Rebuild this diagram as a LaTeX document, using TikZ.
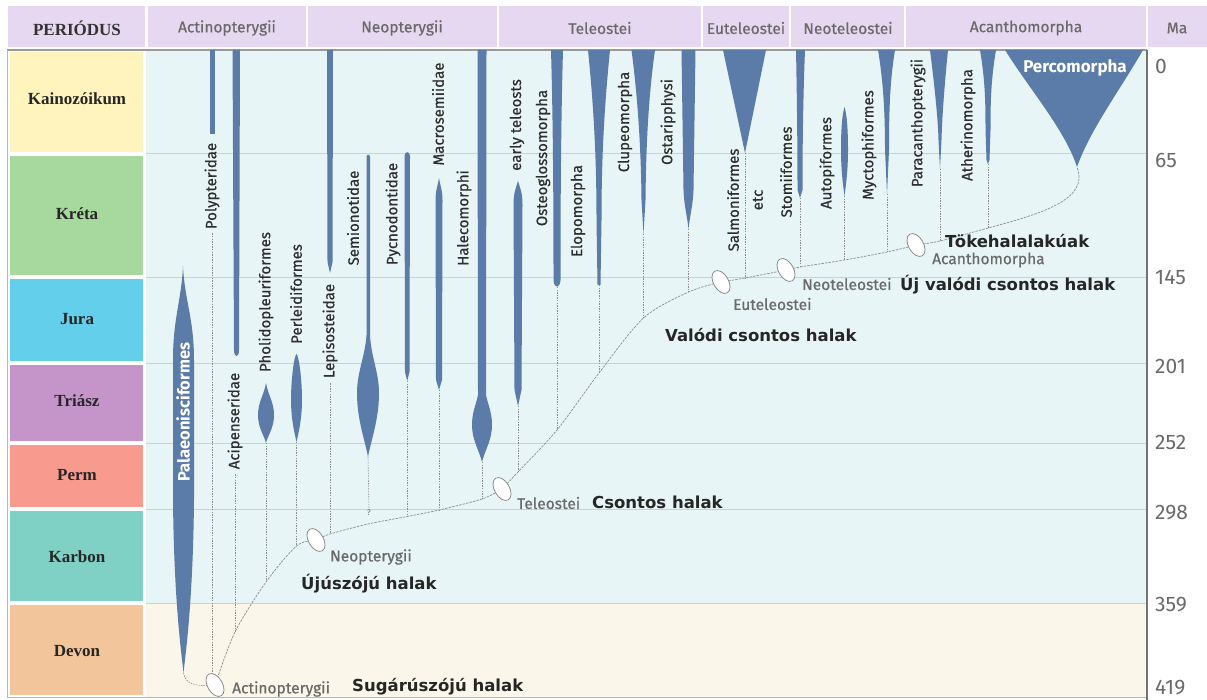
\documentclass[tikz,border=0pt]{standalone}
\usepackage{fontspec}
\setmainfont{Liberation Serif}
\newfontfamily\taxfont{Fira Sans}
\newfontfamily\taxheavy[UprightFeatures={FakeBold=0.6}]{Fira Sans}
\newfontfamily\hunfont{DejaVu Sans}
\usetikzlibrary{shapes.geometric}
\pgfdeclarelayer{back}
\pgfdeclarelayer{lines}
\pgfsetlayers{back,lines,main}

\definecolor{hdr}{HTML}{E6D8F1}
\definecolor{plotbg}{HTML}{E8F5F6}
\definecolor{devonbg}{HTML}{FAF6EA}
\definecolor{gridc}{HTML}{C6D3D5}
\definecolor{framec}{HTML}{9A9A9A}
\definecolor{branchc}{HTML}{5B7BA9}
\definecolor{txtgray}{HTML}{6A6A6A}
\definecolor{txtdark}{HTML}{2E2E2E}
\definecolor{linkc}{HTML}{8C8C8C}
\definecolor{cKai}{HTML}{FFF4BE}
\definecolor{cKre}{HTML}{A7D89D}
\definecolor{cJur}{HTML}{64CFEA}
\definecolor{cTri}{HTML}{C595CA}
\definecolor{cPer}{HTML}{F89A8E}
\definecolor{cKar}{HTML}{7FD0C5}
\definecolor{cDev}{HTML}{F3C59A}

\tikzset{
  hdrcell/.style={fill=hdr},
  hdrtext/.style={font=\taxheavy\fontsize{15.5}{17}\selectfont, text=txtgray, inner sep=0},
  period/.style={font=\bfseries\fontsize{17}{19}\selectfont, text=black!85, inner sep=0},
  taxon/.style={rotate=90, font=\taxheavy\fontsize{15}{17}\selectfont, text=txtdark, inner sep=0},
  whitetaxon/.style={rotate=90, font=\taxfont\bfseries\fontsize{16.5}{18}\selectfont, text=white, inner sep=0},
  branch/.style={fill=branchc},
  link/.style={draw=linkc, line width=0.6pt, dash pattern=on 1.4pt off 1.2pt},
  backbone/.style={draw=linkc, line width=0.7pt, dash pattern=on 2.5pt off 1.1pt},
  clade/.style={ellipse, draw=linkc, fill=white, line width=0.8pt, minimum width=15pt, minimum height=25pt, inner sep=0, rotate=30},
  cladename/.style={anchor=west, font=\taxheavy\fontsize{15.5}{17}\selectfont, text=txtgray, inner sep=0},
  hunname/.style={anchor=west, font=\hunfont\bfseries\fontsize{16.5}{18}\selectfont, text=black!85, inner sep=0},
  ma/.style={anchor=west, font=\taxfont\fontsize{21}{23}\selectfont, text=txtgray, inner sep=0},
}

\begin{document}
\begin{tikzpicture}[x=1pt,y=-1pt]
\useasboundingbox (0,0) rectangle (1207,700);

% ---------- backgrounds, header, period column, grid ----------
\begin{pgfonlayer}{back}
\fill[white] (0,0) rectangle (1207,700);
\fill[hdrcell] (8,6) rectangle (145,47);
\fill[hdrcell] (148,6) rectangle (306,47);
\fill[hdrcell] (308,6) rectangle (497,47);
\fill[hdrcell] (499,6) rectangle (701,47);
\fill[hdrcell] (703,6) rectangle (789,47);
\fill[hdrcell] (791,6) rectangle (904,47);
\fill[hdrcell] (906,6) rectangle (1146,47);
\fill[hdrcell] (1148,6) rectangle (1207,47);

\fill[plotbg] (146,50) rectangle (1147,603);
\fill[devonbg] (146,603) rectangle (1147,697);
\foreach \yy in {153,277,363,443,509,603}
  \draw[gridc, line width=0.9pt] (146,\yy) -- (1147,\yy);

\fill[cKai] (10,52) rectangle (143,152);
\fill[cKre] (10,156) rectangle (143,275);
\fill[cJur] (10,279) rectangle (143,361);
\fill[cTri] (10,365) rectangle (143,441);
\fill[cPer] (10,445) rectangle (143,507);
\fill[cKar] (10,511) rectangle (143,601);
\fill[cDev] (10,605) rectangle (143,695);

\draw[framec, line width=1.2pt] (7,50) -- (1147,50);
\draw[framec!70, line width=0.8pt] (7,50) -- (7,697) -- (1147,697);
\draw[black!55, line width=1.4pt] (1147,50) -- (1147,700);
\end{pgfonlayer}

% ---------- header texts ----------
\node[font=\bfseries\fontsize{17}{19}\selectfont, text=black!80, inner sep=0] (hPer) at (77,28) {PERIÓDUS};
\node[hdrtext] (hActi) at (227,28) {Actinopterygii};
\node[hdrtext] (hNeop) at (402,28) {Neopterygii};
\node[hdrtext] (hTele) at (600,28) {Teleostei};
\node[hdrtext] (hEute) at (746,28) {Euteleostei};
\node[hdrtext] (hNeot) at (848,28) {Neoteleostei};
\node[hdrtext] (hAcan) at (1026,28) {Acanthomorpha};
\node[hdrtext] (hMa) at (1177,28) {Ma};

% ---------- periods ----------
\node[period] (pKai) at (77,99) {Kainozóikum};
\node[period] (pKre) at (77,214) {Kréta};
\node[period] (pJur) at (77,319) {Jura};
\node[period] (pTri) at (77,401) {Triász};
\node[period] (pPer) at (77,475) {Perm};
\node[period] (pKar) at (77,557) {Karbon};
\node[period] (pDev) at (77,651) {Devon};

% ---------- time scale ----------
\node[ma] (m0) at (1155,67) {0};
\node[ma] (m65) at (1155,160) {65};
\node[ma] (m145) at (1155,277) {145};
\node[ma] (m201) at (1155,366) {201};
\node[ma] (m252) at (1155,442) {252};
\node[ma] (m298) at (1155,513) {298};
\node[ma] (m359) at (1155,605) {359};
\node[ma] (m419) at (1155,688) {419};

% ---------- lineages ----------
% Palaeonisciformes
\fill[branch] (183,266) .. controls (184.5,300) and (194,318) .. (194,360) -- (194,500)
  .. controls (193,600) and (186,650) .. (183.5,673)
  .. controls (181,650) and (174,600) .. (173,500) -- (173,360)
  .. controls (173,318) and (181.5,300) .. (183,266) -- cycle;
% Polypteridae
\fill[branch] (210,50) rectangle (214.5,134);
% Acipenseridae
\fill[branch] (232.5,50) -- (240,50) -- (239,350) .. controls (239,358) and (234,358) .. (234,350) -- cycle;
% Pholidopleuriformes
\fill[branch] (266,383) .. controls (268,395) and (274,402) .. (274,415) .. controls (274,428) and (268,435) .. (266,443)
  .. controls (264,435) and (258,428) .. (258,415) .. controls (258,402) and (264,395) .. (266,383) -- cycle;
% Perleidiformes
\fill[branch] (296.5,354) .. controls (299,356) and (302,380) .. (302,400) .. controls (302,420) and (298,435) .. (296.5,442)
  .. controls (295,435) and (291,420) .. (291,400) .. controls (291,380) and (294,356) .. (296.5,354) -- cycle;
% Lepisosteidae
\fill[branch] (327,50) -- (333,50) -- (332.5,262) -- (330,273) -- (327.5,262) -- cycle;
% Semionotidae
\fill[branch] (366.5,157) .. controls (366.5,154) and (370,154) .. (370,157) -- (370,335)
  .. controls (371,357) and (379,372) .. (379,393) .. controls (379,420) and (371,440) .. (368,457)
  .. controls (365,440) and (357,420) .. (357,393) .. controls (357,372) and (365,357) .. (366.5,335) -- cycle;
% Pycnodontidae
\fill[branch] (404.5,156) .. controls (404.5,151) and (410,151) .. (410,156) -- (409.5,372) -- (407.2,381) -- (405,372) -- cycle;
% Macrosemiidae
\fill[branch] (439,178) .. controls (440,185) and (442.5,190) .. (442.5,200) -- (442,380) -- (439,390) -- (436,380) -- (435.5,200)
  .. controls (435.5,190) and (438,185) .. (439,178) -- cycle;
% Halecomorphi
\fill[branch] (477.5,50) -- (486.5,50) -- (486,395) .. controls (488,405) and (492,412) .. (492,425)
  .. controls (492,440) and (485,450) .. (482,462) .. controls (479,450) and (472,440) .. (472,425)
  .. controls (472,412) and (476,405) .. (478,395) -- cycle;
% early teleosts
\fill[branch] (518,181) .. controls (520,188) and (522.5,192) .. (522.5,205) -- (521.5,390) -- (518,406) -- (514.5,390) -- (513.5,205)
  .. controls (513.5,192) and (516,188) .. (518,181) -- cycle;
% Osteoglossomorpha
\fill[branch] (551,50) -- (563,50) .. controls (561,120) and (560.5,200) .. (560.5,280) .. controls (560,289) and (554,289) .. (553.5,280)
  .. controls (553.5,200) and (553,120) .. (551,50) -- cycle;
% Elopomorpha
\fill[branch] (588,50) -- (610,50) .. controls (604,110) and (601.5,160) .. (601.5,220) -- (600.5,285) -- (597.5,285) -- (596.5,220)
  .. controls (596.5,160) and (594,110) .. (588,50) -- cycle;
% Clupeomorpha
\fill[branch] (631.5,50) -- (655,50) .. controls (648,100) and (646,150) .. (645.5,200) -- (643.5,234) -- (641.5,200)
  .. controls (641,150) and (638,100) .. (631.5,50) -- cycle;
% Ostariphysi
\fill[branch] (681.5,50) -- (695.5,50) -- (693.5,190) .. controls (693,205) and (690,215) .. (688.5,229)
  .. controls (687,215) and (684,205) .. (683.5,190) -- cycle;
% Salmoniformes
\fill[branch] (723,50) -- (766,50) -- (745,153) -- cycle;
% Stomiiformes
\fill[branch] (796,50) -- (805,50) .. controls (803,100) and (802.5,150) .. (802.5,190) -- (800,198) -- (797.5,190)
  .. controls (797.5,150) and (797,100) .. (796,50) -- cycle;
% Autopiformes
\fill[branch] (844.5,107) .. controls (847,115) and (848,130) .. (848,150) .. controls (848,170) and (846,185) .. (844.5,196)
  .. controls (843,185) and (841,170) .. (841,150) .. controls (841,130) and (842,115) .. (844.5,107) -- cycle;
% Myctophiformes
\fill[branch] (878,50) -- (895,50) .. controls (890,80) and (889,110) .. (889,150) -- (887,194) -- (885,150)
  .. controls (885,110) and (883,80) .. (878,50) -- cycle;
% Paracanthopterygii
\fill[branch] (930,50) -- (948,50) .. controls (944,90) and (942,120) .. (941.5,140) -- (940,169) -- (938.5,140)
  .. controls (938,120) and (935,90) .. (930,50) -- cycle;
% Atherinomorpha
\fill[branch] (980,50) -- (996,50) .. controls (991,80) and (990.5,100) .. (990.5,130) -- (989.5,160) -- (988,164) -- (986.5,160) -- (985.5,130)
  .. controls (985.5,100) and (985,80) .. (980,50) -- cycle;
% Percomorpha
\fill[branch] (1005,50) -- (1143,50) .. controls (1120,90) and (1090,130) .. (1077,167)
  .. controls (1065,130) and (1030,90) .. (1005,50) -- cycle;

% ---------- lineage names ----------
\node[whitetaxon] (lPal) at (183,412) {Palaeonisciformes};
\node[taxon] (lPoly) at (212,186) {Polypteridae};
\node[taxon] (lAci) at (235,421) {Acipenseridae};
\node[taxon] (lPho) at (266,302) {Pholidopleuriformes};
\node[taxon] (lPerl) at (296,294) {Perleidiformes};
\node[taxon] (lLep) at (330,331) {Lepisosteidae};
\node[taxon] (lSem) at (353,218) {Semionotidae};
\node[taxon] (lPyc) at (393,214) {Pycnodontidae};
\node[taxon] (lMac) at (438,114) {Macrosemiidae};
\node[taxon] (lHal) at (464,218) {Halecomorphi};
\node[taxon] (lEar) at (517,125) {early teleosts};
\node[taxon] (lOst) at (543,158) {Osteoglossomorpha};
\node[taxon] (lElo) at (578,211) {Elopomorpha};
\node[taxon] (lClu) at (625,122) {Clupeomorpha};
\node[taxon] (lOsta) at (668,122) {Ostaripphysi};
\node[taxon, align=center, font=\taxheavy\fontsize{15}{24}\selectfont] (lSal) at (745,200) {Salmoniformes\\etc};
\node[taxon] (lSto) at (786,172) {Stomiiformes};
\node[taxon] (lAut) at (827,163) {Autopiformes};
\node[taxon] (lMyc) at (869,145) {Myctophiformes};
\node[taxon] (lPar) at (918,123) {Paracanthopterygii};
\node[taxon] (lAth) at (968,125) {Atherinomorpha};
\node[font=\taxfont\bfseries\fontsize{17}{19}\selectfont, text=white, inner sep=0] (lPerc) at (1075,68) {Percomorpha};
\node[font=\taxfont\fontsize{8}{9}\selectfont, text=txtgray, inner sep=0] (qSem) at (369,513) {?};

% ---------- clade nodes ----------
\node[clade] (act) at (215,685) {};
\node[clade] (neo) at (316,540) {};
\node[clade] (tel) at (502,489) {};
\node[clade] (eut) at (721,282) {};
\node[clade] (neot) at (786,270) {};
\node[clade] (acan) at (916,245) {};

\node[cladename] (nAct) at (232,689) {Actinopterygii};
\node[hunname] (hAct) at (352,687) {Sugárúszójú halak};
\node[cladename] (nNeo) at (330,557) {Neopterygii};
\node[hunname] (hNeo) at (301,584) {Újúszójú halak};
\node[cladename] (nTel) at (517,503) {Teleostei};
\node[hunname] (hTel) at (592,502) {Csontos halak};
\node[cladename] (nEut) at (733,304) {Euteleostei};
\node[hunname] (hEut) at (665,335) {Valódi csontos halak};
\node[cladename] (nNeot) at (802,284) {Neoteleostei};
\node[hunname] (hNeot) at (900,285) {Új valódi csontos halak};
\node[cladename] (nAcan) at (932,260) {Acanthomorpha};
\node[hunname] (hAcan) at (945,241) {Tökehalalakúak};

% ---------- lineage ends and junctions ----------
\coordinate (bPal) at (183.5,673);
\coordinate (bPho) at (266,443);
\coordinate (bPerl) at (296.5,442);
\coordinate (bSem) at (368,457);
\coordinate (bPyc) at (407.2,381);
\coordinate (bMac) at (439,390);
\coordinate (bHal) at (482,462);
\coordinate (bEar) at (518,406);
\coordinate (bOst) at (557,287);
\coordinate (bElo) at (599,285);
\coordinate (bClu) at (643.5,234);
\coordinate (bOsta) at (688.5,229);
\coordinate (bSal) at (745,153);
\coordinate (bSto) at (800,198);
\coordinate (bAut) at (844.5,196);
\coordinate (bMyc) at (887,194);
\coordinate (bPar) at (940,169);
\coordinate (bAth) at (988,164);
\coordinate (bPerc) at (1077,167);

\coordinate (jAci) at (235,632);
\coordinate (jPho) at (266,582);
\coordinate (jPerl) at (296.5,546);
\coordinate (jLep) at (330,534);
\coordinate (jSem) at (368,524);
\coordinate (jPyc) at (407.2,516.5);
\coordinate (jMac) at (439,510);
\coordinate (jHal) at (482,499);
\coordinate (jEar) at (518,472);
\coordinate (jOst) at (557,430);
\coordinate (jElo) at (599,373);
\coordinate (jClu) at (643.5,318);
\coordinate (jOsta) at (688.5,292);
\coordinate (jSal) at (745,278);
\coordinate (jSto) at (800,267);
\coordinate (jAut) at (844.5,260);
\coordinate (jMyc) at (887,252);
\coordinate (jPar) at (940,241);
\coordinate (jAth) at (988,228);

% ---------- tree lines ----------
\begin{pgfonlayer}{lines}
\draw[backbone] plot[smooth] coordinates {(act.center) (jAci) (jPho) (jPerl) (neo.center)};
\draw[backbone] plot[smooth] coordinates {(neo.center) (jLep) (jSem) (jPyc) (jMac) (jHal) (tel.center)};
\draw[backbone] plot[smooth] coordinates {(tel.center) (jEar) (jOst) (jElo) (jClu) (jOsta) (eut.center)};
\draw[backbone] plot[smooth] coordinates {(eut.center) (jSal) (neot.center)};
\draw[backbone] plot[smooth] coordinates {(neot.center) (jSto) (jAut) (jMyc) (acan.center)};
\draw[backbone] plot[smooth] coordinates {(acan.center) (jPar) (jAth)}
  .. controls (1040,214) and (1090,200) .. (bPerc);

\draw[link] (bPal) .. controls (185,684) and (196,687) .. (act.center);
\draw[link] ([yshift=-4pt]lPoly.west) -- (lPoly.west |- act.center);
\draw[link] ([yshift=-5pt]lAci.west) -- (jAci);
\draw[link] (bPho) -- (jPho);
\draw[link] (bPerl) -- (jPerl);
\draw[link] ([yshift=-5pt]lLep.west) -- (jLep);
\draw[link] (bSem) -- (qSem.north);
\draw[link] (bPyc) -- (jPyc);
\draw[link] (bMac) -- (jMac);
\draw[link] (bHal) -- (jHal);
\draw[link] (bEar) -- (jEar);
\draw[link] (bOst) -- (jOst);
\draw[link] (bElo) -- (jElo);
\draw[link] (bClu) -- (jClu);
\draw[link] (bOsta) -- (jOsta);
\draw[link] (bSal) -- (jSal);
\draw[link] (bSto) -- (jSto);
\draw[link] (bAut) -- (jAut);
\draw[link] (bMyc) -- (jMyc);
\draw[link] (bPar) -- (jPar);
\draw[link] (bAth) -- (jAth);
\end{pgfonlayer}
\end{tikzpicture}
\end{document}
